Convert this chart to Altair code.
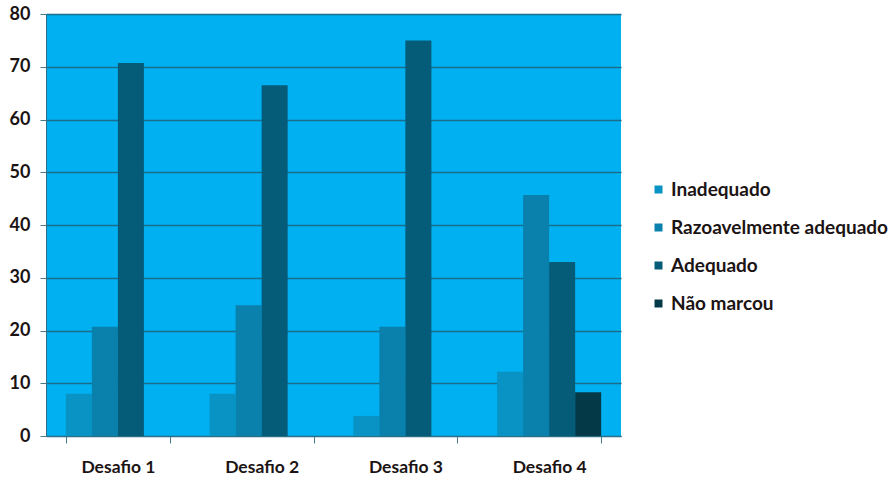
import altair as alt
import pandas as pd

categories = ["Desafio 1", "Desafio 2", "Desafio 3", "Desafio 4"]
series = ["Inadequado", "Razoavelmente adequado", "Adequado", "Não marcou"]
inadequado = [8.0, 8.0, 3.8, 12.2]
razoavel = [20.7, 24.8, 20.7, 45.7]
adequado = [70.7, 66.5, 75.0, 33.0]
nao_marcou = [None, None, None, 8.3]
colors = ["#0893C4", "#0A80AC", "#055C79", "#043A48"]

rows = []
for s, vals in zip(series, [inadequado, razoavel, adequado, nao_marcou]):
    for c, v in zip(categories, vals):
        if v is not None:
            rows.append({"Desafio": c, "Serie": s, "Valor": v})
df = pd.DataFrame(rows)

font = "Lato"
txt = "#1c1414"

chart = alt.Chart(df).mark_bar().encode(
    x=alt.X("Desafio:N", sort=categories,
            scale=alt.Scale(paddingInner=0.276, paddingOuter=0.138),
            axis=alt.Axis(title=None, labelAngle=0, tickBand="extent", tickSize=7,
                          labelPadding=15, labelFontSize=17.5, labelFont=font,
                          labelFontWeight="bold", labelColor=txt,
                          domainColor="#2F6F86", tickColor="#4A7A8C", grid=False)),
    xOffset=alt.XOffset("Serie:N", sort=series, scale=alt.Scale(domain=series, paddingInner=0, paddingOuter=0)),
    y=alt.Y("Valor:Q", scale=alt.Scale(domain=[0, 80]),
            axis=alt.Axis(title=None, values=list(range(0, 81, 10)), tickSize=6,
                          labelPadding=10, labelFontSize=18, labelFont=font,
                          labelFontWeight="bold", labelColor=txt,
                          domainColor="#2F6F86", tickColor="#4A7A8C",
                          grid=True, gridColor="#1A6E8C", gridWidth=1.5)),
    color=alt.Color("Serie:N", sort=series,
                    scale=alt.Scale(domain=series, range=colors),
                    legend=alt.Legend(title=None, orient="none", legendX=603, legendY=166,
                                      symbolType="square", symbolSize=64, symbolStrokeWidth=0,
                                      labelFontSize=19, labelFont=font, labelFontWeight="bold",
                                      labelColor=txt, rowPadding=18, labelOffset=3,
                                      labelLimit=400)),
).properties(
    width=575, height=422,
    background="white",
    padding={"left": 46, "top": 14, "right": 273, "bottom": 43},
    autosize=alt.AutoSizeParams(type="none"),
).configure_view(fill="#00B0F0", stroke=None)

chart.save("out.html", embed_options={"renderer": "svg", "actions": False})
